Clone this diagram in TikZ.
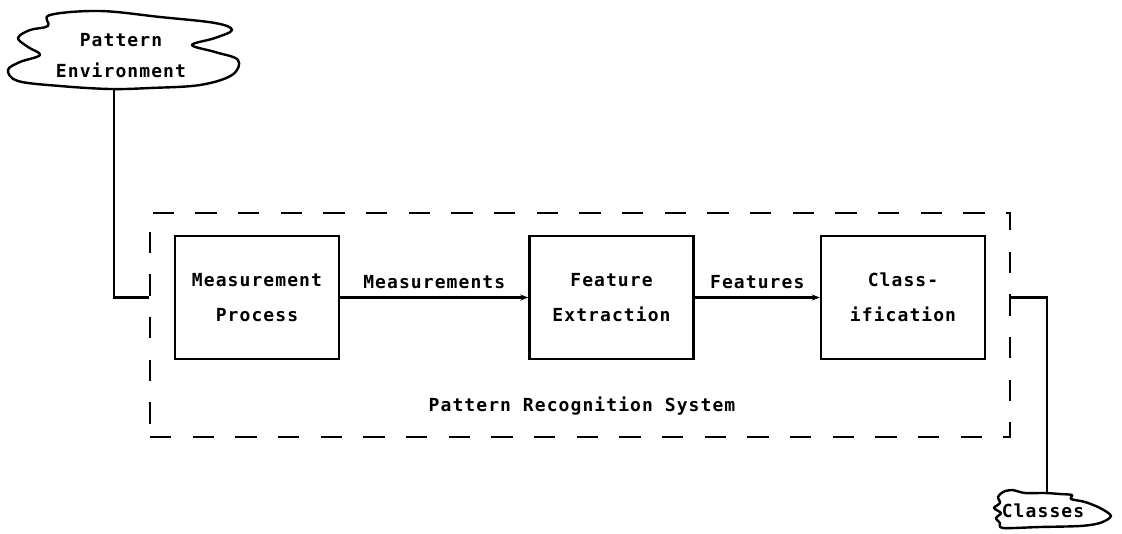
\documentclass[tikz,border=0pt]{standalone}
\usepackage{fontspec}
\newfontfamily\plotfont[LetterSpace=6]{DejaVu Sans Mono Bold}
\usetikzlibrary{arrows.meta}
\tikzset{
  lw/.style={line width=1.8pt},
  procbox/.style={draw, lw, minimum width=123pt, minimum height=92pt, align=center, font=\plotfont\fontsize{13.5}{26}\selectfont},
  lbl/.style={font=\plotfont\fontsize{13.5}{26}\selectfont, inner sep=0pt},
  conn/.style={lw, -{Stealth[length=6pt,width=4.5pt]}},
  cloud/.style={lw, line join=round},
}
\begin{document}
\begin{tikzpicture}[x=0.75pt,y=-0.75pt]
\useasboundingbox (0,0) rectangle (1122,533);
% system box
\node[draw, lw, dash pattern=on 16pt off 16pt, minimum width=645pt, minimum height=168pt, inner sep=0pt] (sys) at (580,325) {};
\node[lbl] (sysl) at (582,406) {Pattern Recognition System};
% process boxes
\node[procbox] (m) at (257,297.5) {Measurement\\Process};
\node[procbox] (f) at (611.5,297.5) {Feature\\Extraction};
\node[procbox] (c) at (903,297.5) {Class-\\ification};
\draw[conn] (m.east) -- node[lbl, above=6pt] (ml) {Measurements} (f.west);
\draw[conn] (f.east) -- node[lbl, above=6pt] (fl) {Features} (c.west);
% environment cloud
\draw[cloud] plot[smooth cycle, tension=0.6] coordinates {
 (50,15) (100,11) (160,17) (215,23) (232,30) (215,38) (192,45) (215,52) (238,60) (232,75)
 (200,85) (150,88) (110,89) (60,86) (18,81) (8,70) (20,62) (40,55) (28,47) (18,38) (30,30) (48,26)};
\node[lbl] (envt) at (121,40) {Pattern};
\node[lbl] (envb2) at (121,70) {Environment};
\coordinate (envb) at (114,89);
% classes cloud
\draw[cloud] plot[smooth cycle, tension=0.5] coordinates {
 (1003,492) (1012,490) (1025,493) (1045,493) (1060,494) (1072,495) (1071,499) (1085,502) (1100,508) (1111,516)
 (1100,523) (1080,526) (1040,527) (1003,528) (1000,523) (996,518) (1001,513) (994,508) (1000,503) (998,497)};
\node[lbl] (cls) at (1043,511) {Classes};
\coordinate (clsT) at (1047,493);
% connectors
\draw[lw] (envb) |- (sys.west |- m.east);
\draw[lw] (sys.east |- c.east) -| (clsT);
\end{tikzpicture}
\end{document}
